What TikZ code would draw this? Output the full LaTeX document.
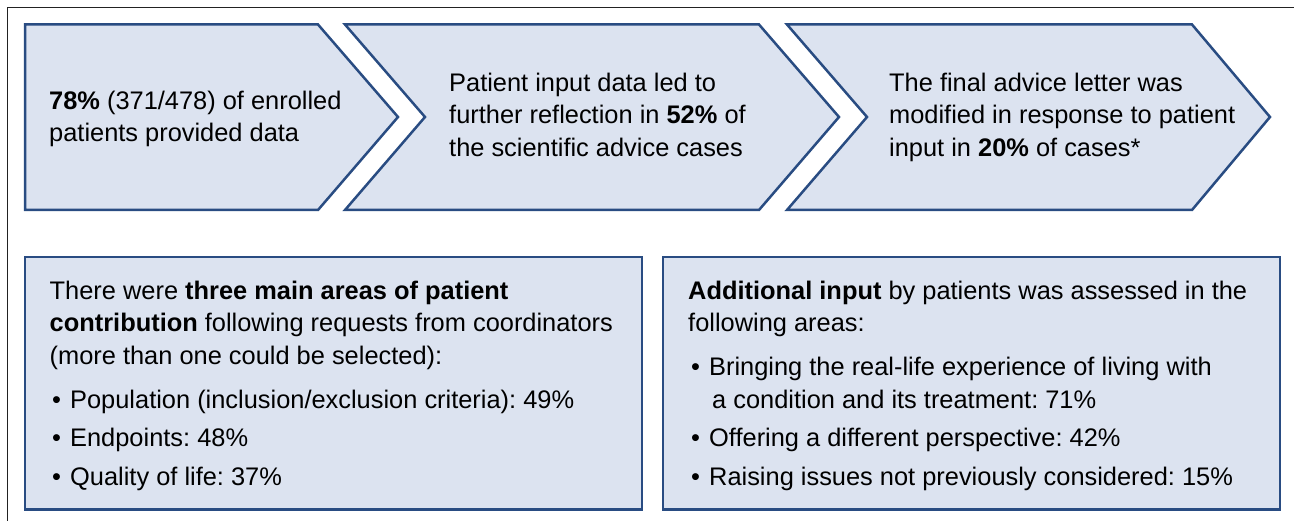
\documentclass[tikz,border=0pt]{standalone}
\usepackage{fontspec}
\setmainfont{Liberation Sans}
\frenchspacing
\definecolor{panelfill}{RGB}{220,227,240}
\definecolor{paneledge}{RGB}{41,76,130}
\definecolor{framegray}{RGB}{34,34,34}
\begin{document}
\begin{tikzpicture}[x=1pt,y=-1pt,
  panel/.style={fill=panelfill,draw=paneledge,line width=2.5pt,line join=miter},
  txt/.style={anchor=base west,inner sep=0pt,text=black,
    font=\fontsize{25.4pt}{32.5pt}\selectfont\frenchspacing},
  frameline/.style={draw=framegray,line width=1.5pt}]
\useasboundingbox (0,0) rectangle (1294,521);

% outer frame (top and left edges)
\draw[frameline] (7.5,521) -- (7.5,7.5) -- (1294,7.5);

% process chevrons
\path[panel] (25,24.5) -- (318,24.5) -- (398,117) -- (318,210) -- (25,210) -- cycle;
\path[panel] (345,24.5) -- (759,24.5) -- (839,117) -- (759,210) -- (345,210) -- (425,117) -- cycle;
\path[panel] (787,24.5) -- (1192,24.5) -- (1270,117) -- (1192,210) -- (787,210) -- (867,117) -- cycle;

% lower summary boxes
\path[panel] (25,257) rectangle (642,509.5);
\path[panel] (663,257) rectangle (1280,509.5);

% chevron texts
\node[txt] (c1a) at (49,110) {\textbf{78\%} (371/478) of enrolled};
\node[txt] (c1b) at (49,142) {patients provided data};

\node[txt] (c2a) at (449,91.5) {Patient input data led to};
\node[txt] (c2b) at (449,124) {further reflection in \textbf{52\%} of};
\node[txt] (c2c) at (449,156.5) {the scientific advice cases};

\node[txt] (c3a) at (889,91.5) {The final advice letter was};
\node[txt] (c3b) at (889,124) {modified in response to patient};
\node[txt] (c3c) at (889,156.5) {input in \textbf{20\%} of cases*};

% left box texts
\node[txt] (l1) at (49.5,299.5) {There were \textbf{three main areas of patient}};
\node[txt] (l2) at (49.5,332) {\textbf{contribution} following requests from coordinators};
\node[txt] (l3) at (49.5,364.5) {(more than one could be selected):};
\node[txt] (l4) at (52,408.5) {\makebox[18pt][l]{•}Population (inclusion/exclusion criteria): 49\%};
\node[txt] (l5) at (52,446.5) {\makebox[18pt][l]{•}Endpoints: 48\%};
\node[txt] (l6) at (52,485) {\makebox[18pt][l]{•}Quality of life: 37\%};

% right box texts
\node[txt] (r1) at (688,299.5) {\textbf{Additional input} by patients was assessed in the};
\node[txt] (r2) at (688,332) {following areas:};
\node[txt] (r3) at (691,376) {\makebox[18pt][l]{•}Bringing the real-life experience of living with};
\node[txt] (r4) at (712,408.5) {a condition and its treatment: 71\%};
\node[txt] (r5) at (691,446.5) {\makebox[18pt][l]{•}Offering a different perspective: 42\%};
\node[txt] (r6) at (691,485) {\makebox[18pt][l]{•}Raising issues not previously considered: 15\%};
\end{tikzpicture}
\end{document}
